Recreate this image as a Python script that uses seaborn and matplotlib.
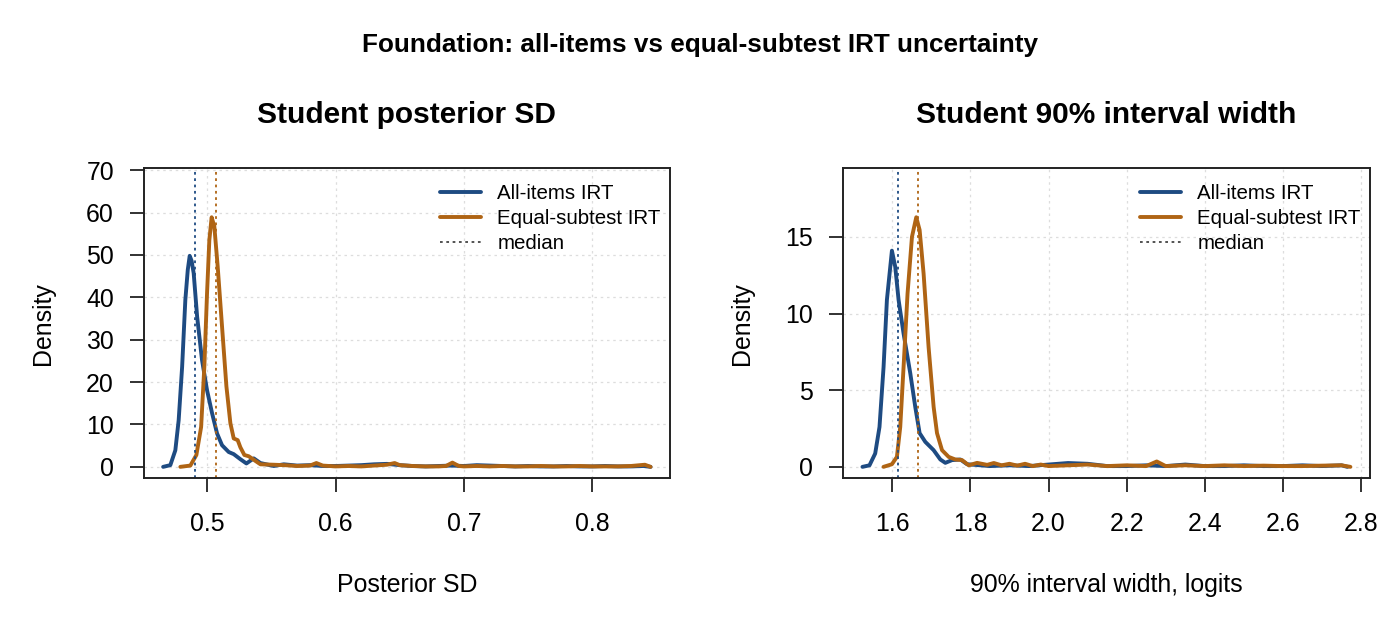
import numpy as np
import pandas as pd
import seaborn as sns
import matplotlib.pyplot as plt
from matplotlib.lines import Line2D
from matplotlib.ticker import FormatStrFormatter

# density curves
# left panel: student posterior SD
sd_all_x = [0.4656, 0.4712, 0.4751, 0.4777, 0.4804, 0.4829, 0.4848, 0.4863, 0.4878, 0.4894,
            0.4921, 0.4959, 0.4998, 0.5037, 0.5076, 0.5115, 0.5167, 0.5206, 0.5258, 0.5305,
            0.5362, 0.5414, 0.5518, 0.5596, 0.57, 0.58, 0.59, 0.60, 0.61, 0.62, 0.63, 0.64,
            0.65, 0.66, 0.67, 0.68, 0.69, 0.70, 0.71, 0.72, 0.73, 0.74, 0.75, 0.76, 0.77,
            0.78, 0.79, 0.80, 0.81, 0.82, 0.83, 0.84, 0.8454]
sd_all_y = [0.0, 0.4, 3.9, 11.0, 23.6, 39.4, 46.5, 49.8, 48.6, 45.7,
            35.4, 25.2, 18.1, 12.7, 7.9, 5.1, 3.5, 3.0, 1.8, 0.8,
            2.0, 0.9, 0.2, 0.6, 0.3, 0.4, 0.2, 0.2, 0.3, 0.4, 0.6, 0.7,
            0.4, 0.2, 0.1, 0.2, 0.3, 0.2, 0.4, 0.3, 0.2, 0.1, 0.2, 0.1, 0.1,
            0.2, 0.1, 0.1, 0.2, 0.1, 0.1, 0.2, 0.0]
sd_eq_x = [0.479, 0.4868, 0.4915, 0.4952, 0.4977, 0.4998, 0.5016, 0.5034, 0.5055, 0.5081,
           0.5115, 0.5149, 0.518, 0.5206, 0.5237, 0.5258, 0.5289, 0.5323, 0.5375, 0.5414,
           0.5518, 0.56, 0.57, 0.58, 0.585, 0.59, 0.60, 0.61, 0.62, 0.63, 0.64, 0.646,
           0.65, 0.66, 0.67, 0.68, 0.686, 0.691, 0.696, 0.70, 0.71, 0.72, 0.73, 0.74,
           0.75, 0.76, 0.77, 0.78, 0.79, 0.80, 0.81, 0.82, 0.83, 0.841, 0.8454]
sd_eq_y = [0.0, 0.3, 2.8, 9.4, 23.6, 40.9, 53.5, 58.9, 56.7, 47.3,
           33.1, 19.0, 10.3, 6.7, 6.3, 4.6, 2.8, 2.5, 1.4, 0.6,
           0.5, 0.4, 0.2, 0.3, 0.9, 0.3, 0.1, 0.2, 0.1, 0.3, 0.5, 0.9,
           0.4, 0.2, 0.1, 0.1, 0.2, 1.0, 0.2, 0.1, 0.2, 0.1, 0.2, 0.1,
           0.1, 0.2, 0.1, 0.1, 0.2, 0.1, 0.1, 0.1, 0.2, 0.5, 0.0]
sd_medians = [0.4902, 0.5065]

# right panel: student 90% interval width
wd_all_x = [1.5238, 1.5418, 1.5564, 1.5674, 1.5778, 1.5864, 1.5992, 1.6077, 1.6162, 1.6290,
            1.6462, 1.6590, 1.6701, 1.6846, 1.7059, 1.7231, 1.7359, 1.7531, 1.7744, 1.7915,
            1.8260, 1.85, 1.90, 1.95, 2.00, 2.05, 2.10, 2.15, 2.20, 2.25, 2.30, 2.35, 2.40,
            2.45, 2.50, 2.55, 2.60, 2.65, 2.70, 2.75, 2.765]
wd_all_y = [0.0, 0.1, 0.87, 2.6, 6.5, 10.9, 14.1, 13.05, 10.9, 8.7,
            6.1, 3.9, 2.2, 1.63, 1.09, 0.48, 0.26, 0.44, 0.48, 0.17,
            0.1, 0.05, 0.1, 0.05, 0.15, 0.25, 0.2, 0.05, 0.05, 0.1, 0.05, 0.15, 0.05,
            0.05, 0.1, 0.05, 0.05, 0.1, 0.05, 0.1, 0.0]
wd_eq_x = [1.5777, 1.5992, 1.6120, 1.6205, 1.6290, 1.6392, 1.6505, 1.6615, 1.6701, 1.6803,
           1.6931, 1.7060, 1.7146, 1.7274, 1.7444, 1.7615, 1.7787, 1.7959, 1.8172, 1.8429,
           1.86, 1.88, 1.90, 1.92, 1.94, 1.96, 1.98, 2.00, 2.05, 2.10, 2.15, 2.20, 2.25,
           2.277, 2.30, 2.35, 2.40, 2.45, 2.50, 2.55, 2.60, 2.65, 2.70, 2.75, 2.7726]
wd_eq_y = [0.0, 0.17, 0.65, 2.6, 6.5, 11.3, 15.0, 16.28, 15.45, 12.6,
           7.8, 3.9, 2.2, 1.09, 0.65, 0.48, 0.44, 0.1, 0.26, 0.13,
           0.25, 0.1, 0.2, 0.08, 0.2, 0.05, 0.15, 0.05, 0.1, 0.15, 0.05, 0.1, 0.05,
           0.35, 0.05, 0.1, 0.05, 0.1, 0.05, 0.08, 0.05, 0.05, 0.08, 0.1, 0.0]
wd_medians = [1.6136, 1.6659]

series_names = ['All-items IRT', 'Equal-subtest IRT']
colors = ['#1E4B82', '#AF6414']
median_grey = '#444444'

sns.set_theme(style='white')
plt.rcParams['font.family'] = ['Liberation Sans', 'DejaVu Sans']
plt.rcParams['text.color'] = 'black'
plt.rcParams['axes.labelcolor'] = 'black'
plt.rcParams['xtick.color'] = 'black'
plt.rcParams['ytick.color'] = 'black'


def long_df(x_all, y_all, x_eq, y_eq):
    return pd.concat([
        pd.DataFrame({'x': x_all, 'density': y_all, 'model': series_names[0]}),
        pd.DataFrame({'x': x_eq, 'density': y_eq, 'model': series_names[1]}),
    ], ignore_index=True)


panels = [
    dict(df=long_df(sd_all_x, sd_all_y, sd_eq_x, sd_eq_y), med=sd_medians,
         title='Student posterior SD', xlabel='Posterior SD',
         xticks=[0.5, 0.6, 0.7, 0.8], yticks=list(range(0, 71, 10))),
    dict(df=long_df(wd_all_x, wd_all_y, wd_eq_x, wd_eq_y), med=wd_medians,
         title='Student 90% interval width', xlabel='90% interval width, logits',
         xticks=[1.6, 1.8, 2.0, 2.2, 2.4, 2.6, 2.8], yticks=[0, 5, 10, 15]),
]

fig = plt.figure(figsize=(14, 6.2), dpi=100)
axes = [fig.add_axes([0.1026, 0.2285, 0.376, 0.5]),
        fig.add_axes([0.6021, 0.2285, 0.3764, 0.5])]

dotted = (0, (1.5, 2.0))

for ax, p in zip(axes, panels):
    df = p['df']
    sns.lineplot(data=df, x='x', y='density', hue='model', hue_order=series_names,
                 palette=colors, estimator=None, sort=False, linewidth=2.8,
                 legend=False, ax=ax)
    for m, c in zip(p['med'], colors):
        ax.axvline(m, color=c, ls=dotted, lw=1.3)

    # R-style 4% padding
    xmin, xmax = df['x'].min(), df['x'].max()
    xpad = 0.04 * (xmax - xmin)
    ax.set_xlim(xmin - xpad, xmax + xpad)
    ytop = 1.15 * df['density'].max()
    ax.set_ylim(-0.04 * ytop, 1.04 * ytop)

    ax.set_xticks(p['xticks'])
    ax.set_yticks(p['yticks'])
    if p['xticks'][0] > 1:
        ax.xaxis.set_major_formatter(FormatStrFormatter('%.1f'))
    ax.grid(True, color='#dddddd', ls=(0, (2, 3)), lw=0.9)
    ax.set_axisbelow(True)

    ax.tick_params(direction='out', length=10.4, width=1.3, color='#222222',
                   labelsize=17.9, bottom=True, left=True)
    ax.tick_params(axis='x', pad=14)
    ax.tick_params(axis='y', pad=11)
    for s in ax.spines.values():
        s.set_visible(True)
        s.set_color('#222222')
        s.set_linewidth(1.4)

    ax.set_xlabel(p['xlabel'], fontsize=17.9)
    ax.xaxis.set_label_coords(0.5, -107 / 310)
    ax.xaxis.label.set_va('center')
    ax.set_ylabel('Density', fontsize=17.9)
    ax.yaxis.set_label_coords(-101 / 526.4, 0.5)
    ax.yaxis.label.set_va('center')

    ax.text(0.5, 1 + 53 / 310, p['title'], transform=ax.transAxes,
            ha='center', va='center', fontsize=21.5, fontweight='bold')

    handles = [Line2D([], [], color=colors[0], lw=2.8),
               Line2D([], [], color=colors[1], lw=2.8),
               Line2D([], [], color=median_grey, ls=dotted, lw=1.3)]
    ax.legend(handles, series_names + ['median'], loc='upper right', frameon=False,
              fontsize=14.8, handlelength=2.0, handletextpad=0.8, labelspacing=0.3,
              borderaxespad=0.05, bbox_to_anchor=(1.0, 0.98))

fig.text(0.5, 1 - 45 / 620, 'Foundation: all-items vs equal-subtest IRT uncertainty',
         ha='center', va='center', fontsize=18.8, fontweight='bold')

fig.savefig('out.png', dpi=100)
